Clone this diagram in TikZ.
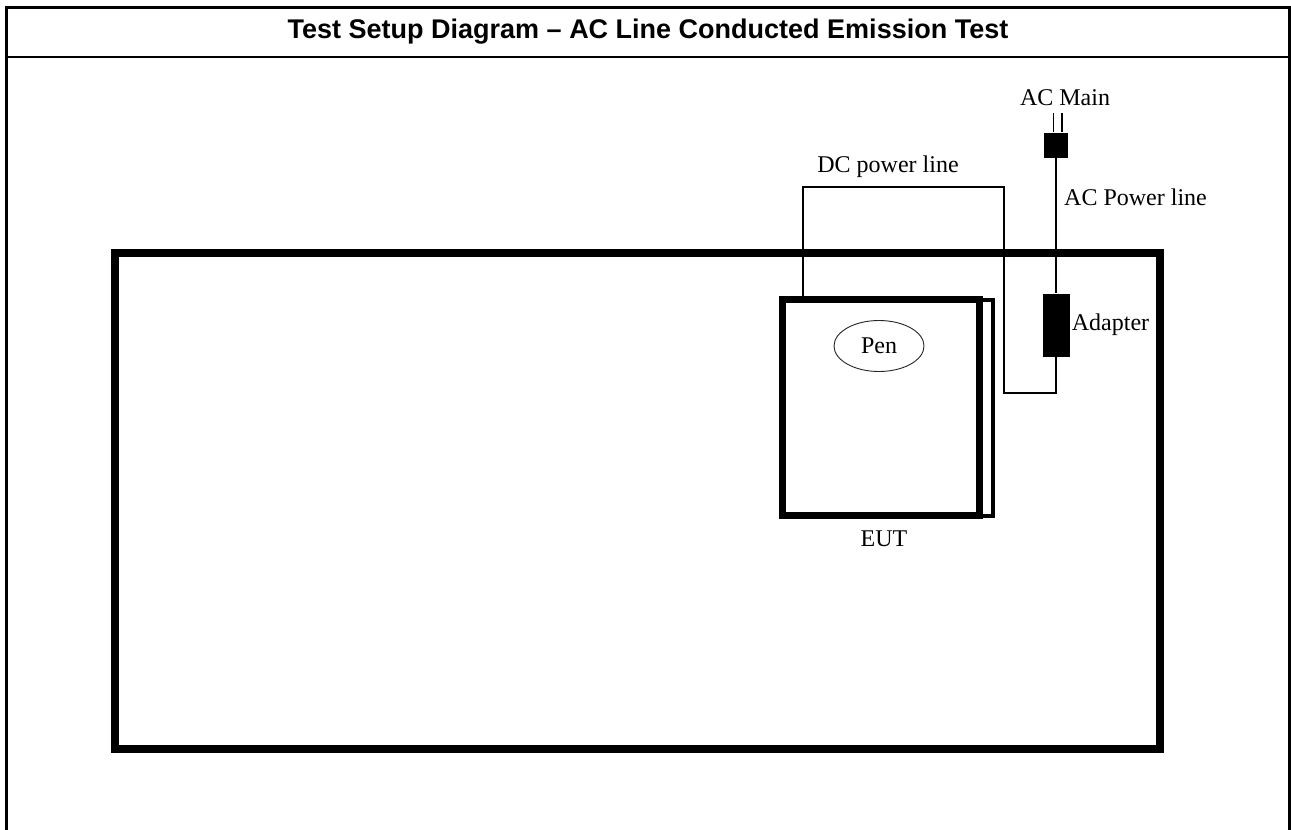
\documentclass[tikz,border=0pt]{standalone}
\usepackage{fontspec}
\setmainfont{Liberation Serif}
\newfontfamily\headfont{Liberation Sans}
\usetikzlibrary{positioning,shapes.geometric}
\tikzset{
  frameline/.style={line width=3pt, black},
  headline/.style={line width=1.5pt, black},
  tablebox/.style={draw, line width=7.5pt, inner sep=0pt},
  eutbox/.style={draw, fill=white, line width=7pt, inner sep=0pt},
  eutback/.style={draw, fill=white, line width=4pt, inner sep=0pt},
  blackpart/.style={fill=black, inner sep=0pt},
  wire/.style={line width=1.2pt, black},
  lbl/.style={font=\fontsize{24}{28}\selectfont, inner sep=2pt},
  headtext/.style={font=\headfont\bfseries\fontsize{27}{31}\selectfont},
}

\begin{document}
\begin{tikzpicture}[x=1pt, y=-1pt]
  \useasboundingbox (0,0) rectangle (1291,830);
  % page frame and heading
  \draw[frameline] (6.5,830) -- (6.5,7.5) -- (1289.5,7.5) -- (1289.5,830);
  \draw[headline] (6.5,57) -- (1289.5,57);
  \node[headtext] (title) at (648,32) {Test Setup Diagram – AC Line Conducted Emission Test};
  % table
  \node[tablebox, minimum width=1045pt, minimum height=496pt] (table) at (637.5,501) {};
  % supply parts
  \node[blackpart, minimum width=24pt, minimum height=25pt] (plug) at (1056,145) {};
  \node[blackpart, minimum width=27pt, minimum height=63pt] (adapter) at (1056,325) {};
  \coordinate (dcl) at (803,187);
  \coordinate (dcr) at (1004,187);
  \coordinate (dcb) at (1004,393);
  % wires
  \draw[wire] (plug.100) -- ++(0,-19);
  \draw[wire] (plug.65) -- ++(0,-19);
  \draw[wire] (plug.south) -- (adapter.north);
  \draw[wire] (dcl |- 0,299) -- (dcl) -- (dcr) -- (dcb) -| (adapter.south);
  % EUT
  \node[eutback, minimum width=201pt, minimum height=216pt] (eutrear) at (892.5,408) {};
  \node[eutbox, minimum width=196.5pt, minimum height=216pt] (eut) at (880.75,407) {};
  \node[lbl, ellipse, draw, line width=0.9pt, black!85, text=black, minimum width=90pt, minimum height=51pt, inner sep=0pt] (pen) at (879,346) {Pen};
  % labels
  \node[lbl] (eutlbl) at (884,539) {EUT};
  \node[lbl] (mainlbl) at (1065,98) {AC Main};
  \node[lbl] (dclbl) at (888,167) {DC power line};
  \node[lbl, anchor=west] (aclbl) at (1062,197) {AC Power line};
  \node[lbl, right=0pt of adapter] (adlbl) {Adapter};
\end{tikzpicture}
\end{document}
